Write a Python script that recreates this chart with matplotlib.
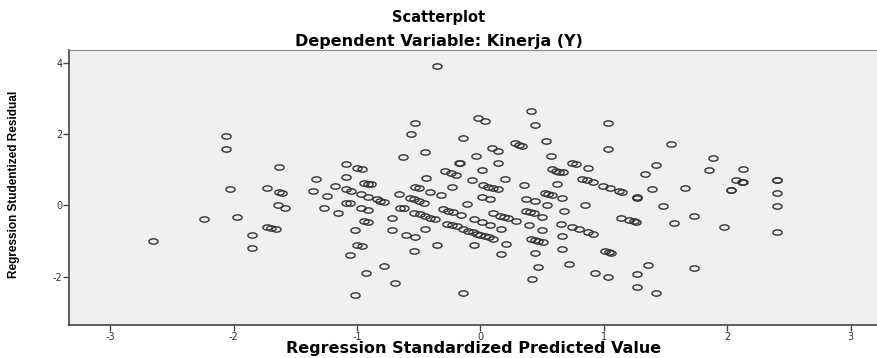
"""SPSS-style residual scatterplot: studentized residual vs standardized
predicted value, dependent variable Kinerja (Y)."""
import matplotlib
matplotlib.use("Agg")
import matplotlib.pyplot as plt
import numpy as np
from matplotlib.path import Path

plt.rcParams["axes.unicode_minus"] = False

# standardized predicted value (x) and studentized residual (y)
pred = [
    -2.06, -2.06, -1.63, -2.03, -1.73, -1.63, -1.61, -1.64, -1.58, -2.24,
    -1.97, -1.73, -1.70, -1.66, -1.85, -1.85, -2.65,
    -1.09, -1.00, -0.96, -1.33, -1.09, -0.94, -0.91, -0.89, -1.36, -1.18,
    -1.09, -1.05, -1.24, -0.97, -0.91, -0.84, -0.81, -0.78, -0.66, -1.09,
    -1.06, -1.27, -1.15, -0.97, -0.91, -0.65, -0.62, -0.94, -0.91, -0.72,
    -1.02, -0.72, -1.00, -0.96, -1.06, -0.78, -0.93, -0.69, -1.02,
    -0.35, -0.53, -0.56, -0.02, 0.04, -0.14, -0.45, -0.63, -0.17, -0.165,
    -0.04, -0.29, -0.24, -0.20, 0.01, -0.44, -0.07, -0.23, -0.53, -0.50,
    -0.41, -0.32, 0.02, 0.06, 0.10, 0.14, -0.57, -0.54, -0.50, -0.46,
    0.01, 0.08, -0.11, -0.54, -0.49, -0.45, -0.41, -0.37, -0.30, -0.26,
    -0.22, -0.16, -0.05, 0.01, 0.08, 0.10, -0.27, -0.23, -0.19, -0.14,
    -0.10, -0.06, -0.03, 0.00, 0.04, 0.07, 0.10, -0.45, -0.60, -0.53,
    -0.35, -0.05, -0.54, -0.14,
    0.09, 0.14, 0.14, 0.41, 0.44, 0.53, 0.57, 0.28, 0.31, 0.34,
    0.58, 0.61, 0.64, 0.67, 0.74, 0.77, 0.87, 0.20, 0.35, 0.62,
    0.82, 0.86, 0.91, 0.52, 0.55, 0.58, 0.66, 0.37, 0.44, 0.54,
    0.85, 0.68, 0.37, 0.40, 0.43, 0.50, 0.16, 0.19, 0.22, 0.29,
    0.39, 0.65, 0.74, 0.80, 0.87, 0.91, 0.17, 0.50, 0.66, 0.21,
    0.41, 0.44, 0.47, 0.51, 0.17, 0.44, 0.66, 0.47, 0.72, 0.42,
    1.03, 1.03, 1.54, 1.42, 1.33, 0.99, 1.05, 1.12, 1.15, 1.27,
    1.27, 1.39, 1.66, 1.48, 1.14, 1.20, 1.24, 1.26, 1.57, 1.01,
    1.04, 1.06, 0.93, 1.03, 1.27, 1.36, 1.27, 1.42,
    1.88, 1.85, 2.13, 2.07, 2.12, 2.13, 2.03, 2.03, 2.40, 2.40,
    2.40, 2.40, 2.40, 1.73, 1.97, 1.73,
]
resid = [
    1.96, 1.59, 1.08, 0.47, 0.48, 0.37, 0.34, 0.01, -0.06, -0.37,
    -0.33, -0.60, -0.63, -0.67, -0.83, -1.19, -0.99,
    1.16, 1.06, 1.01, 0.73, 0.80, 0.63, 0.61, 0.59, 0.41, 0.55,
    0.45, 0.41, 0.26, 0.31, 0.24, 0.17, 0.13, 0.09, 0.31, 0.08,
    0.06, -0.06, -0.20, -0.06, -0.12, -0.06, -0.08, -0.45, -0.48, -0.34,
    -0.70, -0.70, -1.10, -1.13, -1.39, -1.70, -1.89, -2.18, -2.52,
    3.91, 2.32, 2.00, 2.44, 2.37, 1.88, 1.51, 1.35, 1.20, 1.20,
    1.39, 0.96, 0.90, 0.86, 0.98, 0.77, 0.71, 0.52, 0.52, 0.49,
    0.37, 0.28, 0.56, 0.51, 0.49, 0.46, 0.20, 0.18, 0.12, 0.08,
    0.24, 0.18, 0.03, -0.20, -0.25, -0.29, -0.34, -0.37, -0.11, -0.15,
    -0.19, -0.26, -0.39, -0.47, -0.54, -0.22, -0.51, -0.55, -0.59, -0.65,
    -0.71, -0.75, -0.79, -0.83, -0.85, -0.88, -0.95, -0.65, -0.83, -0.90,
    -1.12, -1.12, -1.28, -2.45,
    1.62, 1.53, 1.18, 2.66, 2.26, 1.81, 1.39, 1.74, 1.70, 1.67,
    1.01, 0.97, 0.94, 0.93, 1.20, 1.16, 1.05, 0.75, 0.57, 0.61,
    0.74, 0.70, 0.65, 0.36, 0.33, 0.30, 0.21, 0.19, 0.11, 0.00,
    0.00, -0.17, -0.16, -0.19, -0.22, -0.32, -0.29, -0.32, -0.34, -0.43,
    -0.55, -0.51, -0.61, -0.67, -0.75, -0.79, -0.65, -0.68, -0.86, -1.07,
    -0.93, -0.97, -1.01, -1.04, -1.37, -1.33, -1.22, -1.72, -1.65, -2.07,
    2.31, 1.59, 1.71, 1.13, 0.88, 0.54, 0.48, 0.41, 0.37, 0.23,
    0.22, 0.45, 0.49, -0.02, -0.35, -0.41, -0.45, -0.47, -0.49, -1.28,
    -1.32, -1.34, -1.91, -2.00, -1.93, -1.68, -2.29, -2.47,
    1.32, 0.99, 1.03, 0.71, 0.67, 0.67, 0.42, 0.42, 0.71, 0.71,
    0.35, -0.01, -0.74, -0.31, -0.60, -1.75,
]

x_ticks = [-3, -2, -1, 0, 1, 2, 3]
y_ticks = [-2, 0, 2, 4]

# flattened circle, like the stretched SPSS marker
t = np.linspace(0, 2 * np.pi, 41)
ellipse = Path(np.column_stack([np.cos(t), 0.58 * np.sin(t)]), closed=True)

fig = plt.figure(figsize=(8.78, 3.58), dpi=100)
ax = fig.add_axes([0.079, 0.092, 0.921, 0.768])
ax.set_facecolor("#f0f0f0")

ax.plot(pred, resid, linestyle="none", marker=ellipse, markersize=6.6,
        markerfacecolor="none", markeredgecolor="#333333", markeredgewidth=1.0)

ax.set_xlim(-3.33, 3.22)
ax.set_ylim(-3.36, 4.36)
ax.set_xticks(x_ticks)
ax.set_yticks(y_ticks)
ax.tick_params(direction="out", length=4, width=1, color="#444444",
               labelsize=7, labelcolor="#333333", pad=1)
for lab in ax.get_xticklabels() + ax.get_yticklabels():
    lab.set_family("DejaVu Sans")
for side in ("left", "bottom"):
    ax.spines[side].set_color("#444444")
    ax.spines[side].set_linewidth(1.2)
ax.spines["top"].set_color("#888888")
ax.spines["right"].set_visible(False)

wide = ["DejaVu Sans"]
fig.text(0.5, 0.95, "Scatterplot", ha="center", va="center",
         fontsize=10.5, fontweight="bold", family=wide)
fig.text(0.5, 0.884, "Dependent Variable: Kinerja (Y)", ha="center", va="center",
         fontsize=11.5, fontweight="bold", family=wide)
ax.set_xlabel("Regression Standardized Predicted Value", fontsize=11.5,
              fontweight="bold", family=wide, va="center")
ax.xaxis.set_label_coords(0.5, -0.087)
ax.set_ylabel("Regression Studentized Residual", fontsize=8.5,
              fontweight="bold", family=["Liberation Sans", "DejaVu Sans"])
ax.yaxis.set_label_coords(-0.061, 0.51)

fig.savefig("out.png", dpi=100)
plt.close(fig)
